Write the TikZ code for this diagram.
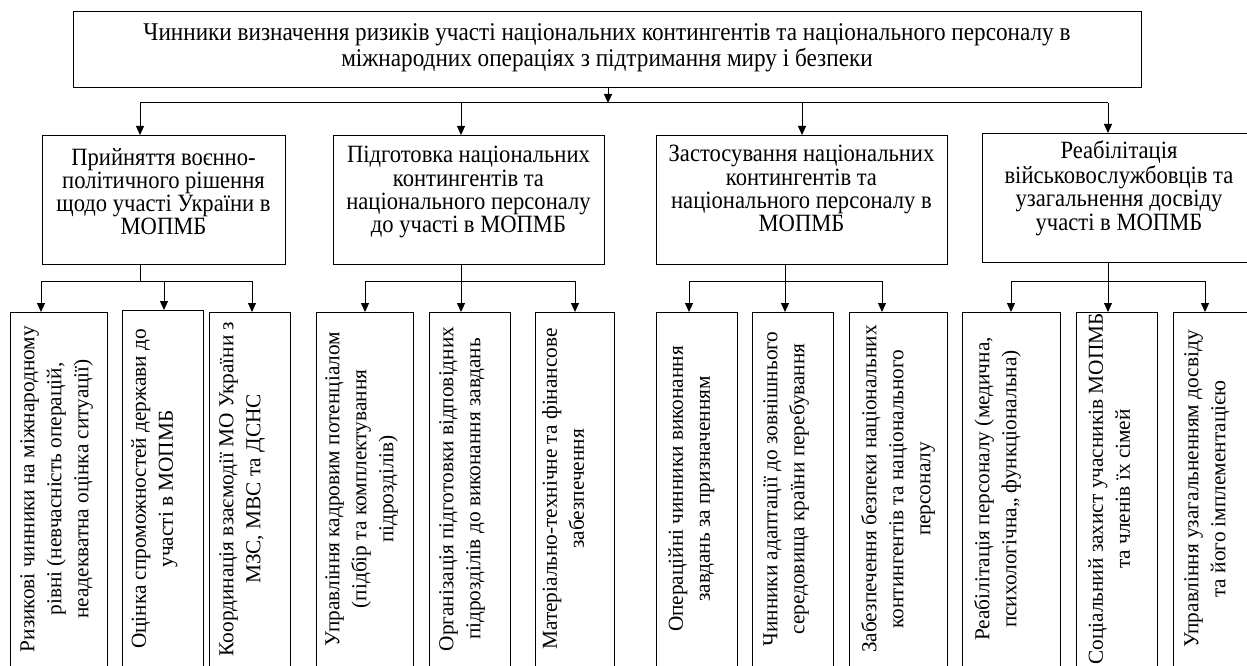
\documentclass[tikz,border=0pt]{standalone}
\usepackage{fontspec}
\usepackage{graphicx}
\setmainfont{Liberation Serif}
\usetikzlibrary{arrows.meta}
\newcommand\tfnt{\fontsize{23.2}{23.6}\selectfont}
\newcommand\hfnt{\fontsize{22.6}{20.6}\selectfont}
\newcommand\rfnt{\fontsize{21.3}{27}\selectfont}
\newcommand\vst[1]{\scalebox{1}[1.1]{\begin{tabular}{@{}c@{}}#1\end{tabular}}}
\begin{document}
\begin{tikzpicture}[x=1pt,y=-1pt,
  box/.style={draw=black, line width=1pt, inner sep=0pt, anchor=north west},
  txt/.style={align=center, inner sep=0pt, font=\hfnt},
  rtxt/.style={align=center, inner sep=0pt, rotate=90, anchor=north, font=\rfnt},
  arr/.style={line width=1pt, -{Triangle[length=9pt,width=8pt]}},
  ln/.style={line width=1pt}]
\useasboundingbox (0,0) rectangle (1247,666);
\clip (0,0) rectangle (1247,666);
\fill[white] (0,0) rectangle (1247,666);
% top
\node[box, minimum width=1068pt, minimum height=76pt] (top) at (73,11) {};
\node[txt, font=\tfnt] (topt) at (607,48) {\vst{Чинники визначення ризиків участі національних контингентів та національного персоналу в\\міжнародних операціях з підтримання миру і безпеки}};
% mid boxes
\node[box, minimum width=243pt, minimum height=129pt] (m1) at (42,135) {};
\node[box, minimum width=271pt, minimum height=129pt] (m2) at (333,135) {};
\node[box, minimum width=291pt, minimum height=129pt] (m3) at (656,135) {};
\node[box, minimum width=300pt, minimum height=129pt] (m4) at (982,133) {};
\node[txt] (m1t) at (163.5,195) {\vst{Прийняття воєнно-\\політичного рішення\\щодо участі України в\\МОПМБ}};
\node[txt] (m2t) at (468.5,193) {\vst{Підготовка національних\\контингентів та\\національного персоналу\\до участі в МОПМБ}};
\node[txt] (m3t) at (801.5,192) {\vst{Застосування національних\\контингентів та\\національного персоналу в\\МОПМБ}};
\node[txt] (m4t) at (1119,189) {\vst{Реабілітація\\військовослужбовців та\\узагальнення досвіду\\участі в МОПМБ}};
% top connectors
\coordinate (tj) at (608,103);
\coordinate (h1) at (140,103);
\coordinate (h2) at (461,103);
\coordinate (h3) at (802,103);
\coordinate (h4) at (1108,103);
\draw[arr] (tj |- top.south) -- (tj);
\draw[ln] (h1) -- (h4);
\draw[arr] (h1) -- (h1 |- m1.north);
\draw[arr] (h2) -- (h2 |- m2.north);
\draw[arr] (h3) -- (h3 |- m3.north);
\draw[arr] (h4) -- (h4 |- m4.north);
% bottom boxes
\node[box, minimum width=97pt, minimum height=380pt] (a) at (10,312) {};
\node[box, minimum width=81pt, minimum height=380pt] (b) at (122,310) {};
\node[box, minimum width=81pt, minimum height=380pt] (c) at (209,312) {};
\node[box, minimum width=97pt, minimum height=380pt] (d) at (316,312) {};
\node[box, minimum width=81pt, minimum height=380pt] (e) at (429,312) {};
\node[box, minimum width=79pt, minimum height=380pt] (f) at (535,312) {};
\node[box, minimum width=81pt, minimum height=380pt] (g) at (656,312) {};
\node[box, minimum width=81pt, minimum height=380pt] (h) at (752,312) {};
\node[box, minimum width=98pt, minimum height=380pt] (i) at (849,312) {};
\node[box, minimum width=98pt, minimum height=380pt] (j) at (962,312) {};
\node[box, minimum width=81pt, minimum height=380pt] (k) at (1076,312) {};
\node[box, minimum width=100pt, minimum height=380pt] (l) at (1173,312) {};
% rotated texts
\node[rtxt] (at) at (20,489) {Ризикові чинники на міжнародному\\рівні (невчасність операцій,\\неадекватна оцінка ситуації)};
\node[rtxt] (bt) at (131,489) {Оцінка спроможностей держави до\\участі в МОПМБ};
\node[rtxt] (ct) at (219,489) {Координація взаємодії МО України з\\МЗС, МВС та ДСНС};
\node[rtxt] (dt) at (325,489) {Управління кадровим потенціалом\\(підбір та комплектування\\підрозділів)};
\node[rtxt] (et) at (439,489) {Організація підготовки відповідних\\підрозділів до виконання завдань};
\node[rtxt] (ft) at (542,489) {Матеріально-технічне та фінансове\\забезпечення};
\node[rtxt] (gt) at (668,489) {Операційні чинники виконання\\завдань за призначенням};
\node[rtxt] (ht) at (763,489) {Чинники адаптації до зовнішнього\\середовища країни перебування};
\node[rtxt] (it) at (861,489) {Забезпечення безпеки національних\\контингентів та національного\\персоналу};
\node[rtxt] (jt) at (974,489) {Реабілітація персоналу (медична,\\психологічна,, функціональна)};
\node[rtxt] (kt) at (1088,489) {Соціальний захист учасників МОПМБ\\та членів їх сімей};
\node[rtxt] (lt) at (1184,489) {Управління  узагальненням досвіду\\та його імплементацією};
% group connectors
\coordinate (g1) at (140,281);
\coordinate (g2) at (461,281);
\coordinate (g3) at (785,281);
\coordinate (g4) at (1108,281);
\coordinate (ja) at (41,281);
\coordinate (jb) at (164,281);
\coordinate (jc) at (252,281);
\coordinate (jd) at (365,281);
\coordinate (je) at (461,281);
\coordinate (jf) at (575,281);
\coordinate (jg) at (689,281);
\coordinate (jh) at (785,281);
\coordinate (ji) at (882,281);
\coordinate (jj) at (1011,281);
\coordinate (jk) at (1108,281);
\coordinate (jl) at (1205,281);
\draw[ln] (g1 |- m1.south) -- (g1);
\draw[ln] (g2 |- m2.south) -- (g2);
\draw[ln] (g3 |- m3.south) -- (g3);
\draw[ln] (g4 |- m4.south) -- (g4);
\draw[ln] (ja) -- (jc);
\draw[ln] (jd) -- (jf);
\draw[ln] (jg) -- (ji);
\draw[ln] (jj) -- (jl);
\draw[arr] (ja) -- (ja |- a.north);
\draw[arr] (jb) -- (jb |- b.north);
\draw[arr] (jc) -- (jc |- c.north);
\draw[arr] (jd) -- (jd |- d.north);
\draw[arr] (je) -- (je |- e.north);
\draw[arr] (jf) -- (jf |- f.north);
\draw[arr] (jg) -- (jg |- g.north);
\draw[arr] (jh) -- (jh |- h.north);
\draw[arr] (ji) -- (ji |- i.north);
\draw[arr] (jj) -- (jj |- j.north);
\draw[arr] (jk) -- (jk |- k.north);
\draw[arr] (jl) -- (jl |- l.north);
\end{tikzpicture}
\end{document}
